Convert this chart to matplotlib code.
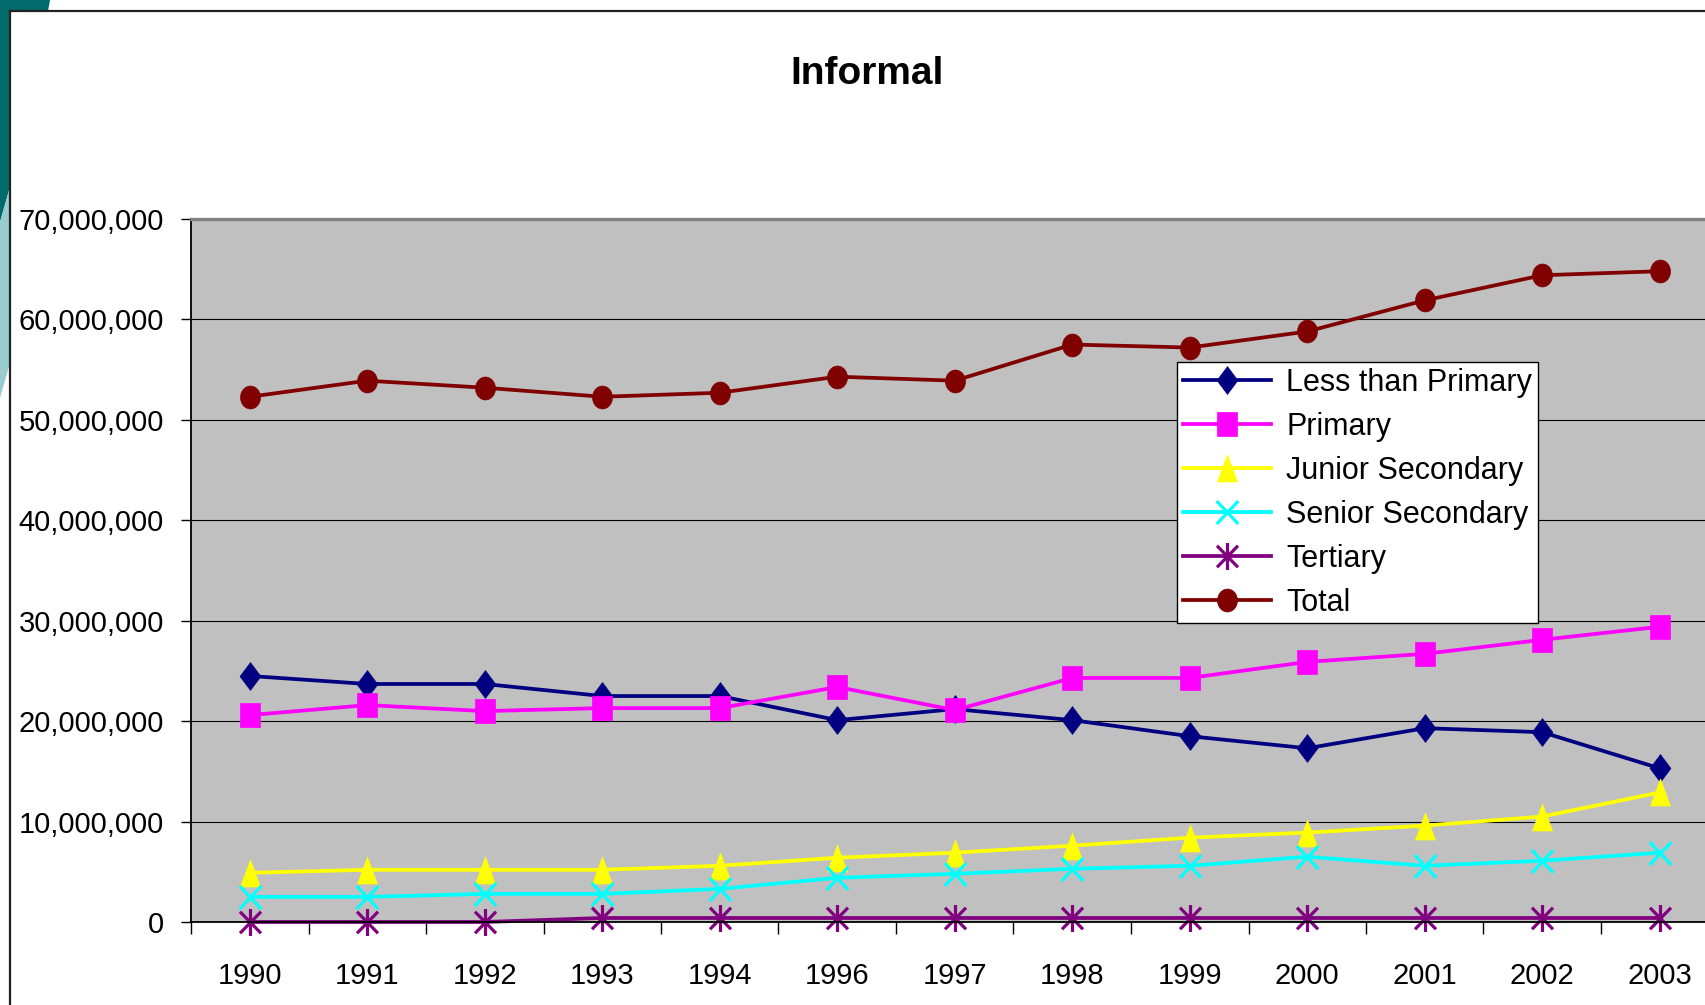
import matplotlib
matplotlib.use("Agg")
import matplotlib.pyplot as plt
from matplotlib.path import Path
from matplotlib.patches import Polygon
from matplotlib.lines import Line2D
from matplotlib.ticker import FuncFormatter, FixedLocator

# Workers in the informal sector by education level (persons)
years = ["1990", "1991", "1992", "1993", "1994", "1996", "1997",
         "1998", "1999", "2000", "2001", "2002", "2003"]

less_than_primary = [24.5, 23.7, 23.7, 22.5, 22.5, 20.1, 21.2,
                     20.1, 18.5, 17.3, 19.3, 18.9, 15.3]
primary = [20.6, 21.6, 21.0, 21.3, 21.3, 23.4, 21.1,
           24.3, 24.3, 25.9, 26.7, 28.1, 29.4]
junior_secondary = [4.9, 5.2, 5.2, 5.2, 5.6, 6.4, 6.9,
                    7.6, 8.4, 8.9, 9.6, 10.5, 12.9]
senior_secondary = [2.5, 2.5, 2.8, 2.8, 3.3, 4.4, 4.8,
                    5.3, 5.6, 6.5, 5.6, 6.1, 6.9]
tertiary = [0.0, 0.0, 0.0, 0.4, 0.4, 0.4, 0.4,
            0.4, 0.4, 0.4, 0.4, 0.4, 0.4]
total = [52.3, 53.9, 53.2, 52.3, 52.7, 54.3, 53.9,
         57.5, 57.2, 58.8, 61.9, 64.4, 64.8]

series_names = ["Less than Primary", "Primary", "Junior Secondary",
                "Senior Secondary", "Tertiary", "Total"]
series_values = [less_than_primary, primary, junior_secondary,
                 senior_secondary, tertiary, total]
series_colors = ["#000080", "#FF00FF", "#FFFF00", "#00FFFF", "#800080", "#800000"]

W, H = 1705, 1005
FONT = ["Liberation Sans", "DejaVu Sans"]


def fx(px):
    return px / W


def fy(py):
    return 1 - py / H


# Excel-style markers, a bit taller than wide (path is normalised to the marker size)
diamond = Path([(0, 0.5), (0.375, 0), (0, -0.5), (-0.375, 0), (0, 0.5)])
square = Path([(-0.417, -0.5), (0.417, -0.5), (0.417, 0.5), (-0.417, 0.5), (-0.417, -0.5)])
triangle = Path([(0, 0.5), (0.37, -0.5), (-0.37, -0.5), (0, 0.5)])
cross = Path([(-0.47, -0.5), (0.47, 0.5), (-0.47, 0.5), (0.47, -0.5)],
             [Path.MOVETO, Path.LINETO, Path.MOVETO, Path.LINETO])
star = Path([(0, -0.5), (0, 0.5), (-0.39, -0.4), (0.39, 0.4), (-0.39, 0.4), (0.39, -0.4)],
            [Path.MOVETO, Path.LINETO, Path.MOVETO, Path.LINETO, Path.MOVETO, Path.LINETO])
ellipse = Path.unit_circle()
ellipse = Path(ellipse.vertices * [0.435, 0.5], ellipse.codes)

marker_specs = [
    (diamond, 20, True),
    (square, 17.3, True),
    (triangle, 19.4, True),
    (cross, 16.5, False),
    (star, 19.4, False),
    (ellipse, 16.5, True),
]

fig = plt.figure(figsize=(W / 100, H / 100), dpi=100)
fig.patch.set_facecolor("white")

# slide decoration in the top-left corner
fig.patches.append(Polygon(
    [(fx(0), fy(0)), (fx(50), fy(0)), (fx(48), fy(11)), (fx(10), fy(11)),
     (fx(10), fy(187)), (fx(0), fy(222))],
    closed=True, transform=fig.transFigure, facecolor="#016A6A", edgecolor="none"))
fig.patches.append(Polygon(
    [(fx(0), fy(222)), (fx(10), fy(187)), (fx(10), fy(363)), (fx(0), fy(398))],
    closed=True, transform=fig.transFigure, facecolor="#99CCCC", edgecolor="none"))
fig.lines.append(Line2D([fx(10), fx(10)], [fy(11), fy(H)], transform=fig.transFigure,
                        color="#222222", lw=1.6))
fig.lines.append(Line2D([fx(10), fx(W)], [fy(11), fy(11)], transform=fig.transFigure,
                        color="#222222", lw=1.6))

# plot area
left_px, top_px, bottom_px = 191, 219, 922
cat_w = 117.5
ax = fig.add_axes([fx(left_px), fy(bottom_px), fx(13 * cat_w), (bottom_px - top_px) / H])
ax.set_facecolor("#C0C0C0")

x = list(range(len(years)))
for name, vals, color, (mk, ms, filled) in zip(series_names, series_values,
                                               series_colors, marker_specs):
    ax.plot(x, [v * 1e6 for v in vals], color=color, lw=2.7, label=name,
            marker=mk, markersize=ms,
            markerfacecolor=color if filled else "none",
            markeredgecolor=color, markeredgewidth=2.3 if not filled else 0.5,
            clip_on=False, solid_joinstyle="round")

ax.set_xlim(-0.5, len(years) - 0.5)
ax.set_ylim(0, 70e6)
ax.yaxis.set_major_locator(FixedLocator([i * 10e6 for i in range(8)]))
ax.yaxis.set_major_formatter(FuncFormatter(lambda v, p: f"{v:,.0f}"))
ax.grid(axis="y", color="black", lw=0.8)
ax.set_axisbelow(True)

ax.set_xticks(x)
ax.set_xticklabels(years)
ax.set_xticks([i - 0.5 for i in range(len(years) + 1)], minor=True)
ax.tick_params(axis="x", which="major", length=0, pad=29)
ax.tick_params(axis="x", which="minor", length=8.5, width=1.0, color="black")
ax.tick_params(axis="y", length=7.5, width=1.0, pad=12)

for lbl in ax.get_xticklabels() + ax.get_yticklabels():
    lbl.set_family(FONT)
    lbl.set_fontsize(21)

for side in ["left", "bottom"]:
    ax.spines[side].set_color("black")
    ax.spines[side].set_linewidth(1.3)
ax.spines["top"].set_color("#808080")
ax.spines["top"].set_linewidth(2.4)
ax.spines["right"].set_visible(False)

leg_x = (1177 - left_px) / (13 * cat_w)
leg_y = (bottom_px - 362) / (bottom_px - top_px)
leg = ax.legend(loc="upper left", bbox_to_anchor=(leg_x, leg_y), borderaxespad=0,
                prop={"family": FONT, "size": 22}, frameon=True, fancybox=False,
                edgecolor="black", framealpha=1, numpoints=1, handlelength=2.9,
                handletextpad=0.5, labelspacing=0.46, borderpad=0.18)
leg.get_frame().set_linewidth(1.0)

fig.text(fx(867), fy(74), "Informal", ha="center", va="center",
         family=FONT, fontsize=28, fontweight="bold")

fig.savefig("out.png", dpi=100)
